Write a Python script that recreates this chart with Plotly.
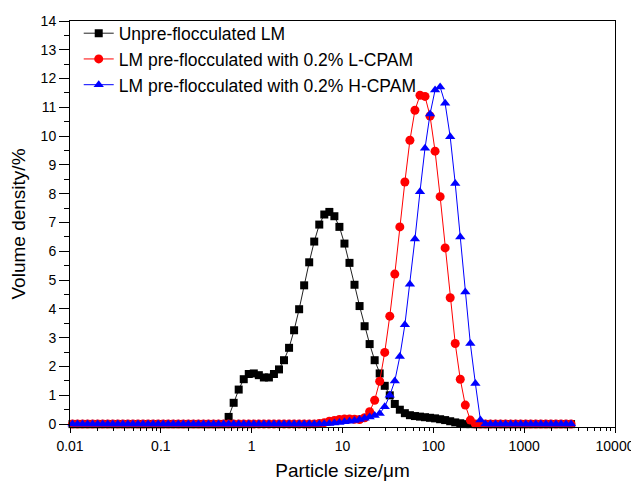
import plotly.graph_objects as go

# Particle size classes (µm)
sizes = [0.01066, 0.01211, 0.01376, 0.01563, 0.01776, 0.02018, 0.02293, 0.02605, 0.02960, 0.03363,
         0.03821, 0.04341, 0.04932, 0.05604, 0.06367, 0.07234, 0.08219, 0.09338, 0.1061, 0.1205,
         0.1369, 0.1556, 0.1768, 0.2008, 0.2282, 0.2593, 0.2946, 0.3347, 0.3803, 0.4320,
         0.4909, 0.5577, 0.6336, 0.7199, 0.8179, 0.9293, 1.0558, 1.1995, 1.3628, 1.5484,
         1.7592, 1.9988, 2.2709, 2.5801, 2.9314, 3.3305, 3.784, 4.299, 4.885, 5.550,
         6.305, 7.164, 8.139, 9.247, 10.51, 11.94, 13.56, 15.41, 17.51, 19.89,
         22.60, 25.67, 29.17, 33.14, 37.65, 42.78, 48.60, 55.22, 62.74, 71.28,
         80.98, 92.01, 104.5, 118.8, 134.9, 153.3, 174.2, 197.9, 224.9, 255.5,
         290.3, 329.8, 374.7, 425.7, 483.7, 549.5, 624.3, 709.6, 806.1, 915.9,
         1041, 1182, 1343, 1526, 1734, 1970, 2238, 2543, 2889, 3283]

unflocculated = [0]*31 + [
    0.25, 0.74, 1.20, 1.56, 1.74, 1.76, 1.70, 1.62, 1.62, 1.74,
    1.90, 2.22, 2.65, 3.26, 3.99, 4.82, 5.62, 6.34, 6.93, 7.28,
    7.37, 7.22, 6.85, 6.27, 5.60, 4.84, 4.10, 3.40, 2.78, 2.22,
    1.76, 1.33, 1.00, 0.70, 0.50, 0.38, 0.31, 0.28, 0.26, 0.24,
    0.22, 0.20, 0.17, 0.14, 0.10, 0.06, 0.03] + [0]*22

l_cpam = [0]*49 + [
    0.02, 0.05, 0.10, 0.13, 0.16, 0.18, 0.18, 0.17, 0.16, 0.22,
    0.43, 0.83, 1.49, 2.49, 3.75, 5.21, 6.85, 8.41, 9.86, 10.90,
    11.42, 11.38, 10.70, 9.48, 7.90, 6.12, 4.39, 2.80, 1.56, 0.66,
    0.14] + [0]*20

h_cpam = [0]*50 + [
    0.01, 0.02, 0.04, 0.06, 0.08, 0.10, 0.13, 0.16, 0.20, 0.25,
    0.30, 0.37, 0.60, 1.00, 1.50, 2.35, 3.45, 4.86, 6.43, 8.07,
    9.58, 10.77, 11.60, 11.71, 11.14, 9.98, 8.36, 6.50, 4.59, 2.80,
    1.41, 0.14] + [0]*18

names = ["Unpre-flocculated LM",
         "LM pre-flocculated with 0.2% L-CPAM",
         "LM pre-flocculated with 0.2% H-CPAM"]

x_tickvals = [0.01, 0.1, 1, 10, 100, 1000, 10000]
x_ticktext = ["0.01", "0.1", "1", "10", "100", "1000", "10000"]
y_tickvals = list(range(0, 15))

FONT = "Liberation Sans, Arial, sans-serif"

fig = go.Figure()
fig.add_trace(go.Scatter(x=sizes, y=unflocculated, name=names[0], mode="lines+markers",
                         line=dict(color="#222222", width=1),
                         marker=dict(symbol="square", size=8, color="#000000"),
                         cliponaxis=False))
fig.add_trace(go.Scatter(x=sizes, y=l_cpam, name=names[1], mode="lines+markers",
                         line=dict(color="#ff0000", width=1),
                         marker=dict(symbol="circle", size=9, color="#ff0000"),
                         cliponaxis=False))
fig.add_trace(go.Scatter(x=sizes, y=h_cpam, name=names[2], mode="lines+markers",
                         line=dict(color="#0000ff", width=1),
                         marker=dict(symbol="triangle-up", size=9, color="#0000ff"),
                         cliponaxis=False))

# The page body adds an 8 px offset, so the figure is 8 px smaller on each axis.
fig.update_layout(
    template="none",
    width=631, height=479,
    margin=dict(l=62, r=24, t=13, b=60, autoexpand=False),
    paper_bgcolor="white", plot_bgcolor="white",
    font=dict(family=FONT, size=14, color="black"),
    showlegend=True,
    legend=dict(x=0.016, y=1.014, xanchor="left", yanchor="top",
                bgcolor="rgba(0,0,0,0)", borderwidth=0,
                font=dict(family=FONT, size=17.5, color="black"),
                tracegroupgap=0),
)

fig.update_xaxes(
    type="log", range=[-2, 4], automargin=False,
    tickvals=x_tickvals, ticktext=x_ticktext,
    ticks="outside", ticklen=5, tickwidth=1, tickcolor="black",
    ticklabelstandoff=1,
    minor=dict(ticks="outside", ticklen=3, tickwidth=1, tickcolor="black", dtick="D1", showgrid=False),
    showline=True, linecolor="black", linewidth=1, mirror=True,
    showgrid=False, zeroline=False,
    tickfont=dict(family=FONT, size=14, color="black"),
    title=dict(text="Particle size/μm", font=dict(family=FONT, size=19, color="black"), standoff=10),
)

fig.update_yaxes(
    range=[-0.1, 14], automargin=False,
    tickvals=y_tickvals,
    ticks="outside", ticklen=10, tickwidth=1, tickcolor="black",
    minor=dict(ticks="outside", ticklen=5, tickwidth=1, tickcolor="black", dtick=0.5, tick0=0, showgrid=False),
    showline=True, linecolor="black", linewidth=1, mirror=True,
    showgrid=False, zeroline=False,
    tickfont=dict(family=FONT, size=14, color="black"),
    title=dict(text="Volume density/%", font=dict(family=FONT, size=19, color="black"), standoff=12),
)

fig.write_html("out.html")
